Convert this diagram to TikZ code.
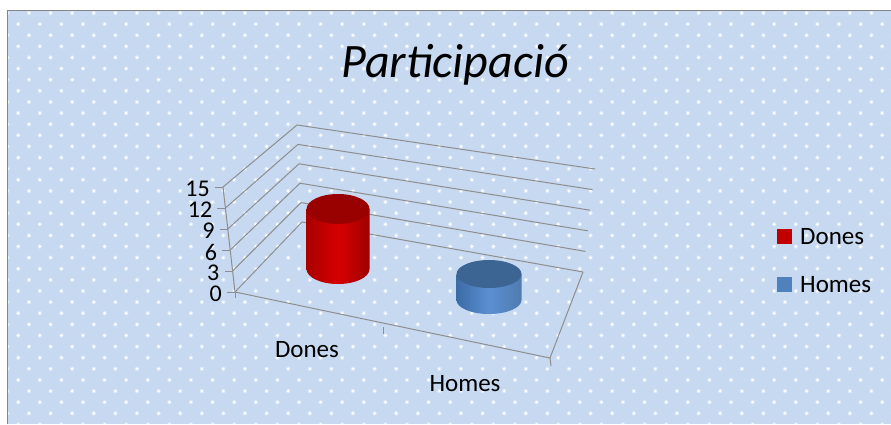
\documentclass[tikz,border=0pt]{standalone}
\usepackage{fontspec}
\setmainfont{Carlito}
\usetikzlibrary{calc}
\definecolor{bgblue}{HTML}{C6D9F1}
\definecolor{gridgray}{HTML}{8E8E8E}
\definecolor{framegray}{HTML}{858585}
\definecolor{redtop}{HTML}{990000}
\definecolor{redmid}{HTML}{D60000}
\definecolor{rededge}{HTML}{A80000}
\definecolor{bluetop}{HTML}{3C6593}
\definecolor{bluemid}{HTML}{5A8FD2}
\definecolor{blueedge}{HTML}{3D6CA6}
\definecolor{legred}{HTML}{C00000}
\definecolor{legblue}{HTML}{4F81BD}
\tikzset{
  gridline/.style={draw=gridgray, line width=1pt},
  axislabel/.style={inner sep=0pt, font=\fontsize{24}{26}\selectfont},
  catlabel/.style={inner sep=0pt, font=\fontsize{25}{28}\selectfont},
  legendtext/.style={inner sep=0pt, anchor=west, font=\fontsize{25}{28}\selectfont},
  legbox/.style={minimum size=15pt, inner sep=0pt, draw=none}
}
\begin{document}
\begin{tikzpicture}[x=1pt,y=-1pt]
\useasboundingbox (0,0) rectangle (891,424);
\fill[white] (0,0) rectangle (891,424);
% background
\fill[bgblue] (7.5,10.5) rectangle (891,424);
\begin{scope}
\clip (7.5,10.5) rectangle (891,424);
\foreach \r in {0,...,37}{
  \pgfmathsetmacro{\off}{mod(\r,2)*(-10.8)}
  \foreach \c in {0,...,42}{
    \fill[white, opacity=0.35] ({7.4+21.6*\c+\off},{13+11.12*\r}) circle (2.3);
    \fill[white] ({7.4+21.6*\c+\off},{13+11.12*\r}) circle (1.4);
  }
}
\end{scope}
\draw[framegray, line width=1.6pt] (7.5,424) -- (7.5,10.5) -- (891,10.5);
% title
\node[inner sep=0pt, anchor=base, font=\fontsize{48}{56}\selectfont\itshape] (title) at (455,77) {Participació};
% grid coordinates
\foreach \i in {0,...,5}{
  \coordinate (L\i) at ({235-2.4*\i},{292-21*\i});
  \coordinate (B\i) at ({302-1.0*\i},{222-19.4*\i});
  \coordinate (R\i) at ({583+2.4*\i},{272-20.6*\i});
}
\coordinate (F) at (550,358);
\coordinate (M) at (383,327);
\foreach \i in {0,...,5}{
  \draw[gridline] (L\i) -- (B\i) -- (R\i);
  \draw[gridline] (L\i) -- ++(-8,0);
}
\draw[gridline] (L0) -- (L5);
\draw[gridline] (L0) -- (F) -- (R0);
\draw[gridline] (L0) -- ++(0,6);
\draw[gridline] (M) -- ++(0,7);
\draw[gridline] (F) -- ++(1,8);
% axis labels
\foreach \i in {0,...,5}{
  \pgfmathtruncatemacro{\v}{3*\i}
  \node[axislabel, anchor=east] (v\i) at ($(L\i)+(-13,2)$) {\v};
}
\node[catlabel] (catD) at (307,350) {Dones};
\node[catlabel] (catH) at (465,384) {Homes};
% red cylinder
\shade[left color=rededge, right color=rededge!95!black, middle color=redmid]
  (306.5,209) -- (306.5,269) arc[start angle=180, end angle=0, x radius=31.5, y radius=15] -- (369.5,209) -- cycle;
\fill[redtop] (338,209) ellipse[x radius=31.5, y radius=15];
% blue cylinder
\shade[left color=blueedge, right color=blueedge!90!white, middle color=bluemid]
  (456.5,274) -- (456.5,300) arc[start angle=180, end angle=0, x radius=32.5, y radius=14] -- (521.5,274) -- cycle;
\fill[bluetop] (489,274) ellipse[x radius=32.5, y radius=14];
% legend
\node[legbox, fill=legred] (lr) at (784.5,236.5) {};
\node[legendtext] (ld) at (800,237) {Dones};
\node[legbox, fill=legblue] (lb) at (784.5,284.5) {};
\node[legendtext] (lh) at (800,285) {Homes};
\end{tikzpicture}
\end{document}
